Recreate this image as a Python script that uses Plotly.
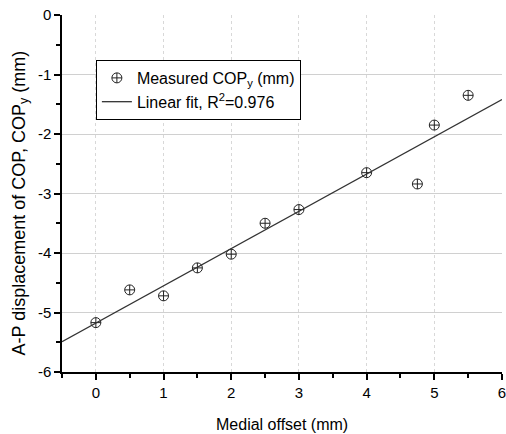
import plotly.graph_objects as go

# Data
medial_offset = [0, 0.5, 1, 1.5, 2, 2.5, 3, 4, 4.75, 5, 5.5]
cop_y = [-5.17, -4.62, -4.72, -4.25, -4.02, -3.50, -3.27, -2.65, -2.84, -1.85, -1.35]

fit_x = [-0.5, 6]
fit_y = [-5.49, -1.42]

x_ticks = [0, 1, 2, 3, 4, 5, 6]
x_labels = ["0", "1", "2", "3", "4", "5", "6"]
y_ticks = [0, -1, -2, -3, -4, -5, -6]
y_labels = ["0", "-1", "-2", "-3", "-4", "-5", "-6"]

x_title = "Medial offset (mm)"
y_title = "A-P displacement of COP, COP<sub>y</sub> (mm)"

FONT = "Liberation Sans, Arial, sans-serif"

fig = go.Figure()
fig.add_trace(go.Scatter(
    x=medial_offset, y=cop_y, mode="markers",
    name="Measured COP<sub>y</sub> (mm)",
    marker=dict(symbol="circle-cross-open", size=10, color="#222222",
                line=dict(width=1, color="#222222")),
))
fig.add_trace(go.Scatter(
    x=fit_x, y=fit_y, mode="lines",
    name="Linear fit, R<sup>2</sup>=0.976",
    line=dict(color="#333333", width=1.3),
))

fig.update_layout(
    width=506, height=434,
    margin=dict(l=62, r=4, t=15, b=62),
    paper_bgcolor="white", plot_bgcolor="white",
    font=dict(family=FONT, size=15, color="black"),
    showlegend=True,
    legend=dict(
        x=0.077, y=0.874, xanchor="left", yanchor="top",
        bgcolor="white", bordercolor="black", borderwidth=1,
        font=dict(family=FONT, size=16, color="black"),
        tracegroupgap=0,
    ),
    annotations=[
        dict(text=x_title, xref="paper", yref="paper", x=0.5, y=-0.147,
             xanchor="center", yanchor="middle", showarrow=False,
             font=dict(family=FONT, size=16, color="black")),
        dict(text=y_title, xref="paper", yref="paper", x=-0.0955, y=0.475,
             xanchor="center", yanchor="middle", showarrow=False, textangle=-90,
             font=dict(family=FONT, size=18, color="black")),
    ],
)

fig.update_xaxes(
    range=[-0.5, 6], tickvals=x_ticks, ticktext=x_labels,
    automargin=False, ticklabeloverflow="allow",
    showline=True, linecolor="black", linewidth=1.5,
    ticks="outside", ticklen=6, tickwidth=1.5, tickcolor="black",
    minor=dict(dtick=0.5, tick0=0, ticks="outside", ticklen=4, tickwidth=1.5,
               tickcolor="black", showgrid=False),
    showgrid=True, gridcolor="#d8d8d8", griddash="dot", gridwidth=1,
    zeroline=False,
    tickfont=dict(size=15),
)
fig.update_yaxes(
    range=[-6, 0], tickvals=y_ticks, ticktext=y_labels,
    automargin=False, ticklabeloverflow="allow",
    showline=True, linecolor="black", linewidth=1.5,
    ticks="outside", ticklen=6, tickwidth=1.5, tickcolor="black",
    minor=dict(dtick=0.5, tick0=0, ticks="outside", ticklen=4, tickwidth=1.5,
               tickcolor="black", showgrid=False),
    showgrid=True, gridcolor="#d0d0d0", gridwidth=1,
    zeroline=False,
    tickfont=dict(size=15),
)

# remove the browser's default 8px body margin so the figure fills the window
fig.write_html(
    "out.html",
    config={"displayModeBar": False},
    post_script="document.body.style.margin='0';document.body.style.overflow='hidden';",
)
